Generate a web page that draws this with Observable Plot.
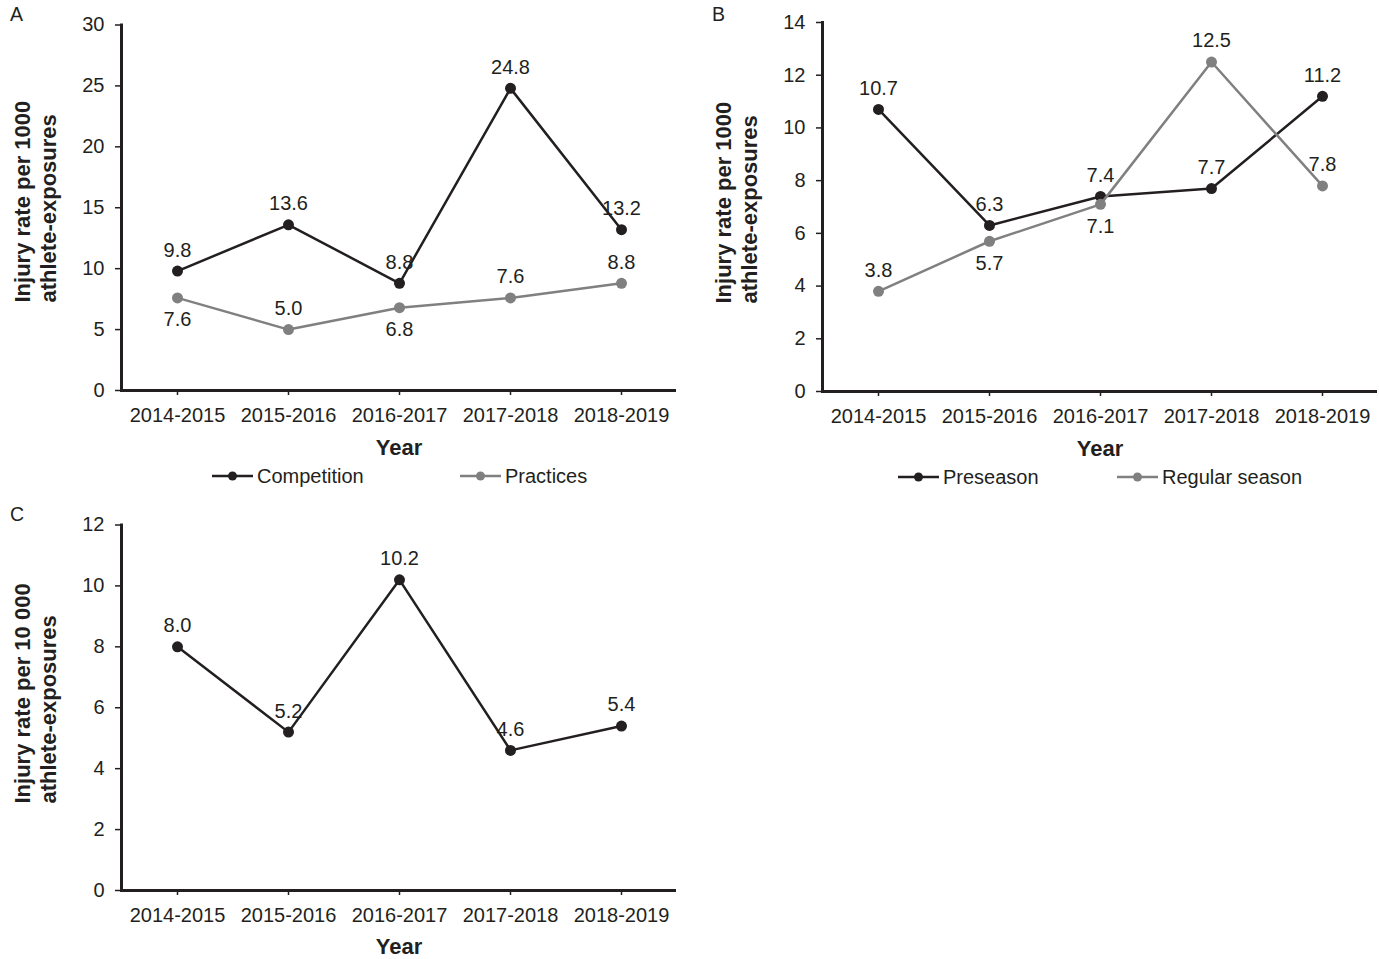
<!DOCTYPE html>
<html><head><meta charset="utf-8">
<script src="https://cdn.jsdelivr.net/npm/d3@7"></script>
<script src="https://cdn.jsdelivr.net/npm/@observablehq/plot@0.6"></script>
<style>
body{margin:0;background:#fff;font-family:"Liberation Sans",Arial,sans-serif;color:#231f20}
#root{position:relative;width:1379px;height:959px;overflow:hidden;background:#fff}
.panel{position:absolute}
.letter{position:absolute;font-size:19.5px;line-height:1}
.legend{position:absolute;height:24px;font-size:20px;display:flex;align-items:center;white-space:nowrap}
.legend svg{margin-right:4px}
</style></head><body><div id="root"></div>
<script>
const years = ["2014-2015","2015-2016","2016-2017","2017-2018","2018-2019"];
const competition = [9.8,13.6,8.8,24.8,13.2];
const practices = [7.6,5.0,6.8,7.6,8.8];
const practicesLabelBelow = [true,false,true,false,false];
const preseason = [10.7,6.3,7.4,7.7,11.2];
const regularSeason = [3.8,5.7,7.1,12.5,7.8];
const regularLabelBelow = [false,true,true,false,false];
const overall = [8.0,5.2,10.2,4.6,5.4];
const overallLabelBelow = [false,false,false,false,false];
const ticksA = [0,5,10,15,20,25,30];
const ticksB = [0,2,4,6,8,10,12,14];
const ticksC = [0,2,4,6,8,10,12];
const yLabelA = ["Injury rate per 1000\nathlete-exposures"];
const yLabelB = ["Injury rate per 1000\nathlete-exposures"];
const yLabelC = ["Injury rate per 10 000\nathlete-exposures"];
const xLabel = ["Year"];
const panelLetters = ["A","B","C"];
const legendA = ["Competition","Practices"];
const legendB = ["Preseason","Regular season"];

const DARK = "#231f20", GRAY = "#808080";

function rows(values, below, name) {
  return years.map((y, i) => ({year: y, value: values[i], below: below[i], series: name}));
}

function panel(opts) {
  const marks = [
    Plot.axisY({ticks: opts.ticks, tickSize: 6, tickPadding: 11, tickFormat: d => String(d), label: null, strokeWidth: 1.5}),
    Plot.axisX({tickSize: 5, tickPadding: 12, label: null, strokeWidth: 1.5}),
    Plot.frame({anchor: "left", stroke: DARK, strokeWidth: 3}),
    Plot.ruleY([0], {stroke: DARK, strokeWidth: 3})
  ];
  for (const s of opts.series) {
    marks.push(Plot.line(s.data, {x: "year", y: "value", stroke: s.color, strokeWidth: 2.5}));
    marks.push(Plot.dot(s.data, {x: "year", y: "value", fill: s.color, r: 5.5}));
    marks.push(Plot.text(s.data.filter(d => !d.below), {x: "year", y: "value", text: d => d.value.toFixed(1), dy: -21, fill: DARK}));
    marks.push(Plot.text(s.data.filter(d => d.below), {x: "year", y: "value", text: d => d.value.toFixed(1), dy: 22, fill: DARK}));
  }
  marks.push(Plot.text(xLabel, {text: d => d, frameAnchor: "bottom", dy: opts.xLabelDy, fontSize: 22, fontWeight: "bold", fill: DARK}));
  marks.push(Plot.text(opts.yLabel, {text: d => d, frameAnchor: "bottom-left", rotate: -90, textAnchor: "start", lineAnchor: "middle", lineHeight: 1.18, dx: -87, dy: opts.yLabelDy, fontSize: 22, fontWeight: "bold", fill: DARK}));
  return Plot.plot({
    width: opts.width, height: opts.height,
    marginLeft: opts.ml, marginRight: opts.mr, marginTop: opts.mt, marginBottom: opts.mb,
    x: {type: "point", domain: years, padding: 0.5, label: null},
    y: {domain: opts.yDomain, label: null},
    style: {fontFamily: "'Liberation Sans', Arial, sans-serif", fontSize: "20px", color: DARK, background: "transparent", overflow: "visible"},
    marks
  });
}

function place(el, left, top, w) {
  const d = document.createElement("div");
  d.className = "panel";
  d.style.left = left + "px"; d.style.top = top + "px"; d.style.width = w + "px";
  d.appendChild(el);
  document.getElementById("root").appendChild(d);
}

function legendItem(label, color, left, cy) {
  const d = document.createElement("div");
  d.className = "legend";
  d.style.left = left + "px"; d.style.top = (cy - 12) + "px";
  d.innerHTML = `<svg width="41" height="12"><line x1="0" x2="41" y1="6" y2="6" stroke="${color}" stroke-width="2.5"/><circle cx="20.5" cy="6" r="4.5" fill="${color}"/></svg><span></span>`;
  d.querySelector("span").textContent = label;
  document.getElementById("root").appendChild(d);
}

function letter(t, left, top) {
  const d = document.createElement("div");
  d.className = "letter";
  d.style.left = left + "px"; d.style.top = top + "px";
  d.textContent = t;
  document.getElementById("root").appendChild(d);
}

place(panel({
  width: 690, height: 500, ml: 121, mr: 14, mt: 24.5, mb: 110,
  yDomain: [0, 30], ticks: ticksA, yLabel: yLabelA, xLabelDy: 64, yLabelDy: -88,
  series: [
    {data: rows(competition, [false,false,false,false,false], legendA[0]), color: DARK},
    {data: rows(practices, practicesLabelBelow, legendA[1]), color: GRAY}
  ]
}), 0, 0, 690);

place(panel({
  width: 679, height: 500, ml: 122, mr: 2, mt: 22, mb: 109,
  yDomain: [0, 14], ticks: ticksB, yLabel: yLabelB, xLabelDy: 64, yLabelDy: -88,
  series: [
    {data: rows(preseason, [false,false,false,false,false], legendB[0]), color: DARK},
    {data: rows(regularSeason, regularLabelBelow, legendB[1]), color: GRAY}
  ]
}), 700, 0, 679);

place(panel({
  width: 690, height: 459, ml: 121, mr: 14, mt: 24.5, mb: 69,
  yDomain: [0, 12], ticks: ticksC, yLabel: yLabelC, xLabelDy: 63, yLabelDy: -87,
  series: [
    {data: rows(overall, overallLabelBelow, "Overall"), color: DARK}
  ]
}), 0, 500, 690);

legendItem(legendA[0], DARK, 212, 476);
legendItem(legendA[1], GRAY, 460, 476);
legendItem(legendB[0], DARK, 898, 477);
legendItem(legendB[1], GRAY, 1117, 477);

letter(panelLetters[0], 10, 5);
letter(panelLetters[1], 712, 5);
letter(panelLetters[2], 10, 505);
</script></body></html>
